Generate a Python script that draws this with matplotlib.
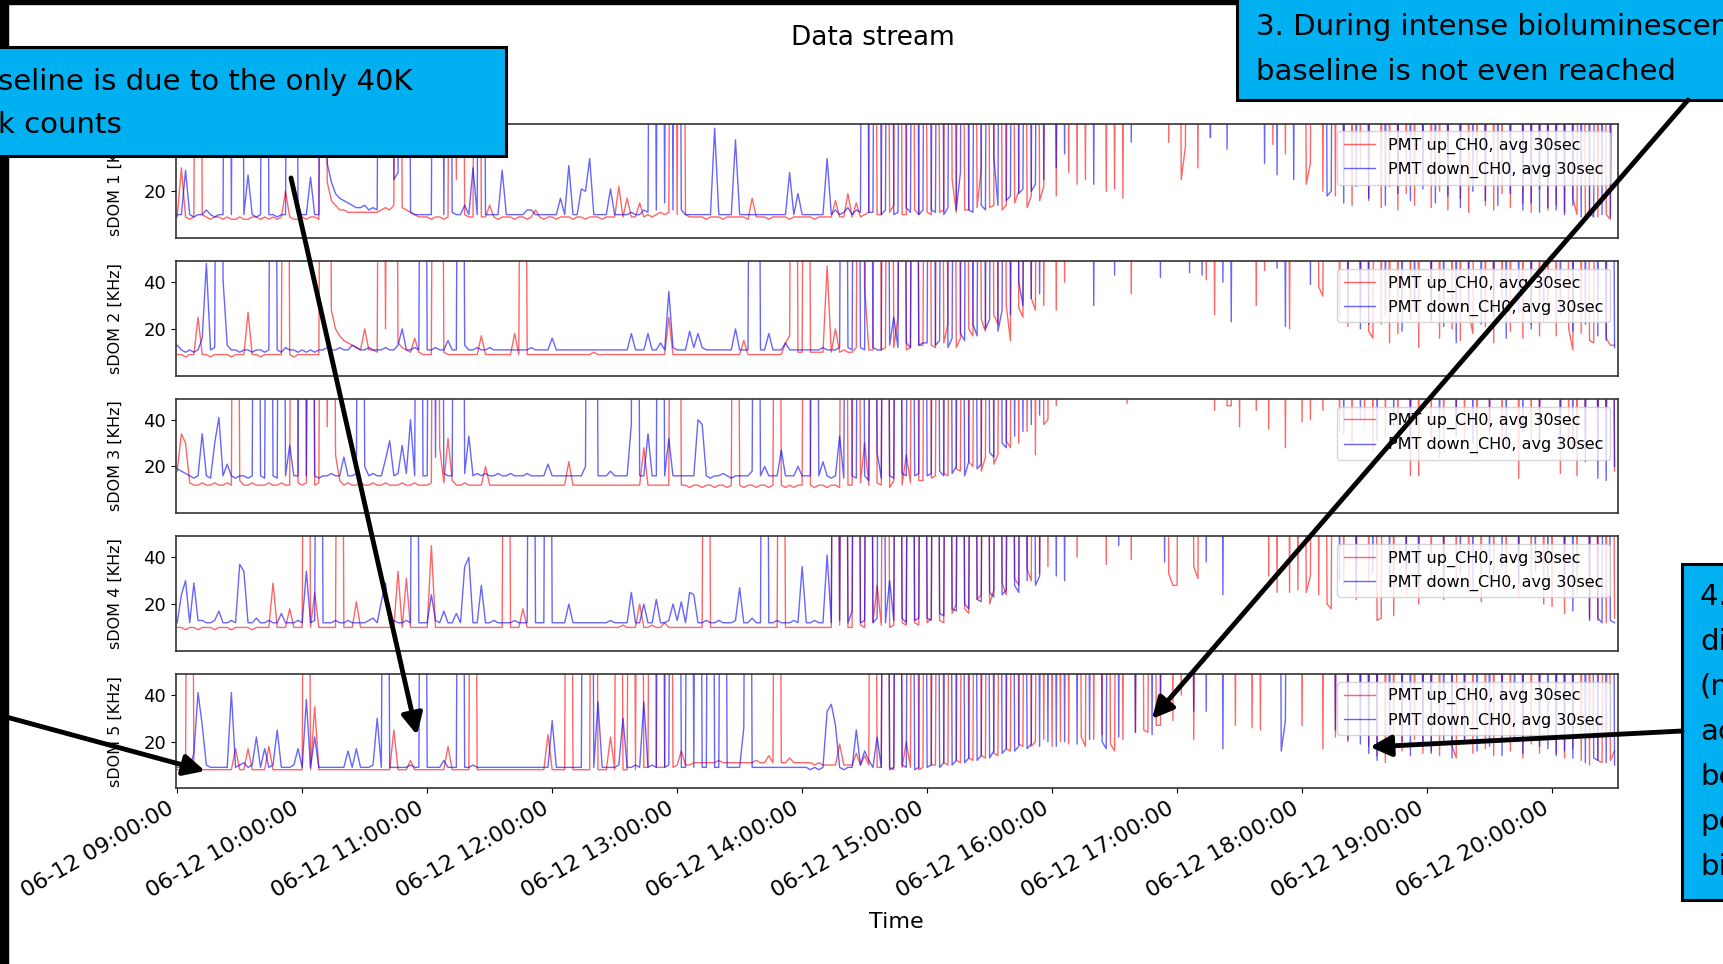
import numpy as np
import pandas as pd
import matplotlib
matplotlib.use("Agg")
import matplotlib.pyplot as plt
import matplotlib.dates as mdates
from matplotlib.patches import Rectangle, FancyArrowPatch

# one reading every 2 min, 09:00 -> 20:30 ; values in kHz
T = 400  # off-scale reading (far above the 49 kHz axis top)
times = pd.date_range("2019-06-12 09:00", "2019-06-12 20:30", freq="2min")
ALL_T = [T] * 30

sdom1_up = [
    9, 30, 9, 8, 9, T, 10, 9, 8, 9, 9, 8, 9, 8, 8, 9, 8, 8, 9, 9, 8, 9, 8, 9, 8, 9, 20, 9, 8, 8,            # 09
    9, 8, 9, 9, 8, T, 24, 16, 14, 12, 12, 11, 11, 11, 11, 11, 11, 11, 11, 12, 13, 12, 14, T, 13, 12, 11, 10, 9, 9,  # 10
    9, 8, 9, 9, 8, 9, T, 25, T, 10, 9, 9, T, 9, 9, 14, 9, 8, 9, 9, 9, 8, 9, 9, 8, 9, 12, 9, 8, 9,            # 11
    9, 8, 9, 9, 9, 8, 9, 9, 8, 9, 9, 9, 8, 9, 9, 9, 22, 9, 17, 9, 9, 15, 9, 10, 9, 10, 11, 10, 11, T,          # 12
    10, T, 10, 9, 9, 9, 9, 8, 9, 9, 9, 8, 9, 9, 9, 9, 9, 8, 17, 9, 9, 9, 8, 9, 9, 9, 9, 8, 9, 9,              # 13
    9, 9, 9, 8, 9, 9, 9, 9, 16, 9, 9, 19, 9, 15, 9, 10, 11, T, 10, 10, T, 11, 14, T, 10, 10, T, 12, 10, T,     # 14
    11, 10, T, 11, 12, T, 25, 11, T, 12, 12, T, 13, 30, T, 13, 14, T, 12, 14, T, 15, 20, T, 13, 18, T, 16, 22, T,  # 15
    T, 18, T, T, 28, T, 23, T, 25, T, T, T, T, 20, T, 21, T, 17, T, T, T, T, T, T, T, T, T, T, 41, T,          # 16
    T, 25, 39, T, T, 30, T, T, T, T, T, T, T, T, T, T, T, T, T, T, T, T, T, 40, T, T, 36, T, T, T,            # 17
    T, 23, 32, T, T, 20, T, T, 18, T, 25, T, 14, T, 30, T, 16, T, T, 13, T, 22, T, 12, T, 19, T, 14, T, 24,    # 18
    T, 13, T, 20, T, 12, T, T, 17, T, 11, T, 26, T, 14, T, 12, T, 19, T, 13, T, T, 15, T, 11, T, 21, T, 12,    # 19
    T, 14, T, 11, T, 17, 10, T, 9, 12, T, 9, T, 10, 8, T,                                                      # 20
]
sdom1_down = [
    10, 10, 29, 10, 9, 10, 10, 12, 10, 9, 10, 10, T, 10, T, T, 10, 27, 10, 9, 10, T, 10, 10, 9, 10, 10, T, T, 10,
    10, 10, 26, 10, 10, T, 32, 24, 19, 17, 16, 15, 14, 13, 13, 14, 12, 13, 12, T, 35, T, 25, 28, T, T, 11, 10, 10, 10,
    10, 10, T, T, 10, T, 11, 10, 10, 14, 10, 30, 10, T, 10, 10, 10, 10, 29, 10, 10, 10, 10, 10, 12, 12, 10, 10, 10, 10,
    10, 10, 17, 10, 31, 10, 10, 21, 20, 34, 10, 10, 10, 10, 21, 10, 10, 10, 10, 11, 10, 10, 12, 11, T, 12, T, 15, T, 12,
    T, 12, 10, 10, 10, 10, 10, 10, 10, 47, 10, 10, 10, 10, 42, 10, 10, 10, 10, 10, 10, 10, 10, 10, 10, 10, 10, 28, 10, 19,
    10, 10, 10, 10, 10, 10, 34, 10, 12, 10, 11, 13, 10, 12, 11, T, 11, 11, T, 10, 12, T, 10, 11, T, 13, 11, T, 10, 12,
    T, 12, 11, T, 10, 13, T, 12, 28, T, 12, 11, T, 14, 12, T, 35, 14, T, 16, 18, T, 19, 21, T, 20, 23, T, 25, T,
    T, 30, T, 36, T, T, T, T, T, T, 23, T, T, T, T, T, T, T, T, 41, T, T, T, T, T, T, T, T, T, T,
    T, T, T, T, T, T, T, T, 43, T, T, T, 38, T, T, T, T, T, T, T, T, 32, T, T, 27, T, T, T, 25, T,
    T, T, T, T, T, T, 18, 20, T, T, 15, T, T, 22, T, T, 17, T, T, T, 14, T, T, 19, T, T, 16, T, T, 21,
    T, T, 15, T, T, 18, T, T, 13, T, T, 20, T, T, 16, T, T, 14, T, T, 19, T, T, 12, T, 15, T, 11, T, 13,
    T, 12, T, 10, T, 14, T, 9, T, 11, 9, T, 10, T, 9, T,
]

sdom2_up = [
    9, 9, 8, 9, 9, 25, 9, 9, 8, 9, 9, 9, 9, 8, 9, 9, 9, 27, 9, 9, 8, 9, 9, 9, 9, 9, T, 9, 8, 9,
    9, 9, 9, 9, 9, T, T, 28, 20, 17, 15, 14, 13, 12, 11, 20, 11, 11, 10, T, 20, T, T, 14, 12, 11, 10, 16, 10, 9,
    9, 9, T, T, 10, 9, 9, 9, 9, 9, 9, 9, 9, 17, 9, 9, 9, 9, 9, 9, 9, 18, 9, T, 9, 9, 9, 9, 9, 9,
    9, 9, 9, 9, 9, 9, 9, 9, 9, 9, 10, 9, 9, 9, 9, 9, 9, 9, 9, 9, 9, 9, 9, 9, 9, 9, 9, 9, 25, 9,
    9, 9, 9, 9, 9, 9, 9, 9, 9, 9, 9, 9, 9, 9, 9, 9, 15, 9, 9, 9, 9, 9, 9, 9, 9, 9, 14, 17, T, 10,
    10, T, 10, 10, 10, 10, 47, 10, 20, 10, 11, 10, 10, 12, T, 38, 11, 11, T, 11, 12, T, 12, 25, T, 11, 12, T, 13, 13,
    T, 13, 12, T, 14, 22, T, 12, 16, T, 20, 17, T, 24, 19, T, 26, 22, T, 30, 15, T, 29, 25, T, 33, 28, T, 30, T,
    T, 28, T, 40, T, T, T, T, T, T, T, T, T, T, T, T, T, T, T, 35, T, T, T, T, T, T, T, T, T, T,
    T, T, T, T, T, T, T, 41, T, 26, T, T, T, T, T, T, T, T, T, 30, T, 45, T, T, T, T, T, 20, T, T,
    T, T, T, T, 38, 34, T, T, T, 25, T, 21, T, T, 28, T, 19, 16, T, 22, T, 14, T, 18, T, T, 24, T, 12, T,
    T, 23, T, 16, T, T, 20, T, 15, T, 27, 18, T, T, 21, T, 14, T, 25, T, 19, T, T, 16, T, 22, T, 17, T, 24,
    T, 17, T, T, 20, 11, T, 18, T, 15, 14, T, T, 16, 13, 13,
]
sdom2_down = [
    13, 11, 10, 11, 10, 11, 16, 48, 11, 12, T, 41, 13, 11, 11, 10, 11, 11, 10, 11, 11, 10, 11, T, 11, 10, 12, 11, 11, 10,
    11, 10, 11, 10, 11, 11, 12, 11, 11, 12, 11, 11, 13, 12, 11, 11, 12, 11, 11, 11, 12, 11, 11, 13, 20, 11, 11, 12, 11, T,
    11, 11, 12, 11, 11, 15, 11, 11, T, 13, 11, 11, 12, 11, 11, 12, 11, 11, 11, 11, 11, 11, 11, 11, 11, 12, 11, 11, 11, 11,
    16, 11, 11, 11, 11, 11, 11, 11, 11, 11, 11, 11, 11, 11, 11, 11, 11, 11, 11, 18, 11, 11, 11, 18, 11, 11, 14, 11, 36, 12,
    11, 11, 11, 19, 12, 18, 12, 11, 11, 11, 11, 11, 11, 11, 20, 11, 11, 11, T, T, 11, 11, 18, 11, 11, 11, 14, 11, 11, 11,
    11, 11, 11, 11, 11, 12, 11, 11, 11, 12, T, 12, 11, T, 12, 11, T, 12, 11, 11, T, 13, 25, 12, T, 14, 12, T, 13, 14,
    14, T, 13, 15, T, 12, 16, T, 18, 15, T, 22, 17, T, 20, 24, T, 19, 28, T, 26, T, 40, 30, T, 33, T, 35, T, T,
    T, T, T, T, T, T, T, T, T, T, 30, T, T, T, T, 43, T, T, T, T, T, T, T, T, T, T, 42, T, T, T,
    T, T, T, 44, T, T, 43, T, T, T, T, 40, T, 23, T, T, T, T, T, T, T, T, T, T, 46, T, 21, T, T, T,
    T, T, 39, T, T, T, T, T, T, T, T, 30, T, T, 20, T, 22, T, T, T, 26, T, T, T, 19, T, T, 28, T, T,
    T, 24, T, T, 21, T, T, 14, T, T, 29, T, T, 22, T, T, 25, T, T, 16, T, T, 27, T, T, 20, T, T, 23, T,
    T, T, 26, T, T, 19, T, T, 22, T, T, 17, T, 15, T, 12,
]

sdom3_up = [
    18, 34, 30, 13, 12, 12, 13, 12, 12, 13, 12, 12, 13, 12, T, 14, 12, 12, 13, 12, 12, 12, 13, 12, 12, 13, 12, 12, T, 13,
    12, 13, T, 12, 13, T, 37, T, 25, 14, 12, 13, 12, 12, 13, 12, 12, 13, 12, 12, 13, 12, 12, 12, 13, 12, 12, 13, 12, 12,
    12, 13, T, 28, 13, 32, 14, 12, 12, 13, 12, 12, 12, 12, 20, 12, 12, 12, 12, 12, 12, 12, 12, 12, 12, 12, 12, 12, 12, 12,
    12, 12, 12, 12, 22, 12, 12, 12, 12, 12, 12, 12, 12, 12, 12, 12, 12, 12, 12, 12, 12, 12, 28, 12, 12, 12, 12, 12, 12, T,
    T, 12, 12, 11, 12, 12, 11, 12, 12, 11, 12, 12, 11, 12, T, 12, 11, 12, 12, 11, 12, 12, 11, 12, T, 12, 11, 12, 11, 12,
    12, T, 12, 11, 12, 12, 11, 12, 12, 11, T, 12, 12, T, 13, 30, 12, T, 13, 12, T, 11, 14, T, 12, 25, 13, T, 14, 14,
    T, 15, 16, T, 17, 16, T, 19, 18, T, 22, 20, T, 18, 24, T, 21, 25, T, 31, 28, T, 30, T, 35, T, 25, T, 38, 40,
    T, 46, T, T, T, T, T, T, T, T, T, T, T, T, T, T, T, T, 47, T, T, T, T, T, T, T, T, T, T, T,
    T, T, T, T, T, T, T, T, T, 44, T, T, 46, 46, T, 37, T, T, T, 44, T, T, 36, T, T, T, 28, T, T, T,
    39, T, 40, T, T, 44, T, T, T, 35, T, T, 30, T, T, 38, T, 27, T, T, 33, T, T, 29, T, T, 16, T, 16, T,
    T, 32, T, T, 26, T, T, 36, T, 30, T, T, 24, T, T, 34, T, T, 28, T, T, T, 15, T, T, 31, T, 25, T, T,
    T, T, 17, T, 30, T, 16, T, 27, T, T, 22, T, 24, T, 18,
]
sdom3_down = [
    19, 18, 17, 16, 15, 16, 34, 16, 15, 30, 41, 16, 21, 16, 15, 16, 16, 15, 16, T, 16, 15, T, 16, 15, T, 16, 29, 16, 16,
    T, 16, T, 16, 15, 16, 16, 17, 16, 16, 24, 16, 16, 17, T, 20, 16, 17, 16, 16, 23, 31, 16, 17, 29, 17, 40, 16, T, 16,
    16, T, 24, T, 17, 16, 16, T, T, 17, 33, 16, 17, 16, 17, 16, 16, 17, 16, 16, 17, 16, 16, 16, 17, 16, 16, 16, 16, 21,
    16, 16, 16, 16, 16, 16, 16, 16, 20, T, T, 16, 16, 16, 18, 16, 16, 16, 16, 38, T, 16, 16, 34, 16, 16, T, 16, 32, 16,
    16, 16, 16, 16, 16, 40, 38, 16, 15, 16, 16, 17, 16, 15, 16, 16, 16, 16, 18, T, 16, 20, 16, 16, 16, 27, 16, 16, 16, 20,
    16, 16, 16, T, 16, 22, 16, 15, 16, 33, 15, T, 16, 15, T, 16, 14, T, 26, 15, T, 16, 15, T, 17, 16, T, 16, 17, T,
    16, 17, T, 18, 16, T, 17, 20, T, 16, 22, T, 19, 21, T, 26, 24, T, 30, 28, T, 33, T, 35, T, 38, T, 42, T, T,
] + ALL_T + ALL_T + [
    T, T, T, T, T, T, T, T, T, T, 34, T, T, T, 40, T, T, T, 31, T, T, T, 37, T, T, T, 29, T, T, T,
    T, T, T, 24, T, T, T, 33, T, T, T, 30, T, T, T, 36, T, T, T, 28, T, T, T, 35, T, T, T, 31, T, T,
    T, T, 30, T, T, 26, T, T, 22, T, T, 15, T, 14, T, 20,
]

sdom4_up = [
    10, 10, 9, 10, 10, 9, 10, 10, 10, 9, 10, 10, 10, 9, 10, 10, 10, 10, 9, 10, 10, 10, 10, 29, 10, 10, 10, 18, 10, 10,
    10, T, 10, 25, 10, 10, 10, 10, 10, T, 10, 10, 10, 21, 10, 10, 10, 10, 10, 10, 10, 10, 10, 34, 10, 31, 10, 10, 10, 10,
    10, 45, 10, 10, 10, 10, 10, 10, 10, 10, 10, 10, 10, 10, 10, 10, 10, 10, 10, T, 10, 10, 10, 18, 10, 10, 10, 10, 10, 10,
    10, 10, 10, 10, 10, 10, 10, 10, 10, 10, 10, 10, 10, 10, 10, 10, 10, 11, 10, 10, 10, 20, 10, 10, 11, 10, 10, 12, 10, 10,
    10, 10, 10, 10, 10, 10, 10, T, 10, 10, 10, 10, 10, 10, 10, 10, 10, 10, 10, 10, 10, 10, 10, 10, 10, T, 10, 10, 10, 10,
    10, 10, 10, 10, 10, 10, 10, 10, T, 11, T, 10, 10, T, 11, 10, T, 12, 28, 11, T, 10, 11, T, 12, 11, T, 12, 11, T,
    12, 14, T, 13, 12, T, 16, 20, T, 18, 16, T, 22, 24, T, 20, 26, T, 29, 24, T, 31, 28, T, 35, 30, T, 33, T, 36,
    T, T, T, T, T, T, 40, T, T, T, T, T, T, 37, T, T, T, T, T, 39, T, T, T, T, T, T, T, T, 33, 28,
    28, T, T, T, 36, 31, T, T, T, T, T, T, T, T, T, T, T, T, T, T, T, T, 32, T, 25, T, T, 25, T, 26,
    T, 25, 32, T, 24, T, 20, 18, T, T, 28, T, T, 22, T, T, 30, T, 13, 14, T, T, 15, T, T, 24, T, T, 20, T,
    T, 27, T, T, 22, T, T, 30, T, T, 25, T, T, 21, T, T, 29, T, T, 26, T, T, 23, T, T, 31, T, T, 20, T,
    19, T, T, 16, T, T, 24, T, T, 14, T, 13, T, 12, T, 14,
]
sdom4_down = [
    12, 24, 30, 12, 29, 13, 13, 12, 12, 13, 17, 12, 12, 13, 12, 37, 34, 12, 12, 14, 12, 12, 13, 12, 12, 16, 12, 12, 12, 13,
    12, 34, 12, 13, T, 12, 12, 12, 13, 12, 12, 13, 12, 12, 12, 12, 13, 14, 12, 21, 29, 12, 13, 12, 12, 13, 12, T, 12, 12,
    12, 24, 13, 12, 17, 12, 12, 16, 12, 36, 40, 12, 12, 28, 12, 12, 13, 12, 12, 12, 12, 13, 12, 12, 12, T, 12, 12, 12, T,
    12, 12, 12, 12, 20, 12, 12, 12, 12, 12, 12, 12, 12, 12, 13, 12, 12, 12, 12, 25, 12, 12, 20, 12, 12, 22, 12, 12, 13, 20,
    13, 21, 12, 25, 24, 12, 12, 13, 12, 12, 13, 12, 12, 12, 13, 27, 12, 12, 14, 12, 12, T, 12, 12, 13, 12, 12, 12, 13, 12,
    36, 12, 12, 13, 12, 12, 41, 12, T, 13, T, 12, 17, T, 12, 13, T, 12, 14, T, 12, 30, 13, T, 14, 12, T, 13, 14, T,
    14, 13, T, 16, 15, T, 18, 17, T, 20, 18, T, 22, 21, T, 25, 23, T, 24, 26, T, 28, 25, T, 30, T, 28, 32, T, T,
    T, 32, T, 30, T, T, T, T, T, T, T, T, T, T, T, T, 45, T, T, T, T, T, T, T, T, T, T, 38, T, T,
    T, T, T, T, T, T, T, 38, T, T, T, 24, T, T, T, T, T, T, T, T, T, T, T, T, T, T, T, T, T, T,
    T, T, T, T, T, T, T, T, T, 30, T, T, T, 25, T, T, T, 33, T, T, T, 27, T, T, T, 35, T, T, 29, T,
    T, T, T, T, 28, T, T, T, 33, T, T, 26, T, T, T, 31, T, T, 36, T, T, T, 29, T, T, T, 34, T, T, 30,
    T, T, T, 25, T, 17, T, T, T, 13, T, 14, 12, T, 13, 12,
]

sdom5_up = [
    8, 8, 8, T, 8, 8, 8, 8, 8, 8, 8, 8, 8, 8, 17, 8, 8, 17, 8, 8, 8, 8, 18, 8, 8, 8, 8, 8, 8, 8,
    8, T, 8, 35, 8, 8, 8, 8, 8, 8, 8, 8, 8, 8, 8, 8, 8, 8, 8, 8, 8, 8, 25, 8, 8, 8, 12, 8, 8, 8,
    8, 8, 8, 8, 8, 18, 8, 8, 8, 8, 8, T, 8, 8, 8, 8, 8, 8, 8, 8, 8, 8, 8, 8, 8, 8, 8, 8, 8, 23,
    8, 8, 8, 8, T, 8, 8, 8, 8, 8, T, 8, 8, 8, 22, 8, T, 8, 8, T, 8, T, 9, 9, T, 9, 9, 9, T, 9,
    10, 16, 10, 10, 11, 11, 11, 11, 11, 11, 12, 11, 11, 11, 11, 11, 11, 11, 11, 12, 11, 11, 14, 11, T, 11, 11, 13, 11, 11,
    11, 11, 11, 10, 11, 10, 10, 10, 10, 19, 10, 10, 10, 15, 10, 14, 10, T, 9, 9, T, 9, 8, T, 9, 20, 9, T, 8, 9,
    T, 10, 10, T, 11, 10, T, 12, 11, T, 13, 12, T, 14, 13, T, 15, 14, T, 17, 16, T, 19, 18, T, 18, 20, T, 21, T,
    18, T, 20, T, 19, T, T, 22, 18, T, 21, T, 23, T, 19, 16, T, 21, T, T, 24, T, 25, 24, T, 27, 27, T, T, 29,
    T, 40, T, T, 21, T, T, T, T, T, T, T, T, T, 27, T, T, T, 26, T, 25, T, T, T, T, T, T, T, T, T,
    27, T, T, T, T, 17, T, T, 22, T, T, 20, T, T, 24, T, 18, T, 14, T, 11, T, 19, T, 16, T, T, 21, T, 15,
    T, 16, T, 14, T, T, 18, 13, T, 20, T, 15, T, T, 17, T, 14, T, 22, T, 16, T, T, 13, T, 19, T, 15, T, T,
    T, 15, T, 13, T, 17, T, 12, T, 10, T, 12, 11, T, 12, 16,
]
sdom5_down = [
    9, 9, 9, 9, 15, 41, 27, 10, 9, 9, 9, 9, 9, 41, 9, 10, 11, 9, 10, 22, 9, 17, 9, 10, 25, 9, 9, 9, 10, 17,
    9, 38, 9, 22, 9, 9, 9, 9, 9, 9, 9, 16, 9, 17, 9, 9, 9, 10, 30, 9, T, 9, 9, 9, 9, 9, 10, 9, 9, T,
    9, 9, 9, 9, 12, 9, 9, 9, T, 9, 9, 10, 9, 9, 9, 9, 9, 9, 9, 9, 9, 9, 9, 9, 9, 9, 9, 9, 9, 9,
    29, 9, 9, 9, 9, 9, 9, 9, T, T, 9, 37, 9, 9, 9, 9, 10, 30, 9, 9, 10, 9, 37, 9, 10, 9, T, 9, 10, T,
    T, 9, 9, T, 9, T, 9, 9, T, 9, 9, T, 9, 9, 9, 9, 26, T, 9, 9, 9, 9, 9, 9, 9, 9, 9, 9, 9, 9,
    9, 9, 8, 9, 8, 9, 33, 36, 27, 9, 8, 9, 9, 25, 10, 16, 12, 9, 22, 9, T, 8, 9, T, 10, 9, T, 8, 9, T,
    9, 10, T, 9, 11, T, 10, 12, T, 11, 13, T, 12, 14, T, 13, 16, T, 15, 17, T, 16, 18, T, 17, 19, T, 18, T, 20,
    T, 18, T, 20, T, T, 19, T, T, 21, T, T, 20, 17, T, T, 22, T, T, T, 24, T, T, T, 23, T, 33, T, T, T,
    T, T, T, T, 33, T, T, 33, T, T, T, 17, T, T, T, T, T, T, T, T, T, T, T, T, T, 16, 29, T, T, T,
    T, T, T, T, T, T, T, T, 25, T, T, 21, T, T, 19, T, 15, T, 12, T, T, 17, T, T, 20, T, 14, T, T, 18,
    T, 15, T, T, 19, T, 13, T, T, 21, T, T, 16, T, T, 18, T, T, 14, T, T, 22, T, 15, T, T, T, 18, T, 17,
    T, 14, T, 16, T, 13, T, T, 11, T, 13, 12, T, 11, T, 10,
]

panels = [(sdom1_up, sdom1_down), (sdom2_up, sdom2_down), (sdom3_up, sdom3_down),
          (sdom4_up, sdom4_down), (sdom5_up, sdom5_down)]
for up, down in panels:
    assert len(up) == len(times) and len(down) == len(times), (len(up), len(down))

W, H = 1723, 964
fig = plt.figure(figsize=(W / 100, H / 100), dpi=100)

for k, (up, down) in enumerate(panels):
    top = 123.5 + k * 137.6
    ax = fig.add_axes([176 / W, 1 - (top + 114.5) / H, 1442 / W, 114.5 / H])
    ax.plot(times, up, color="red", lw=1.0, alpha=0.6, label="PMT up_CH0, avg 30sec")
    ax.plot(times, down, color="blue", lw=1.0, alpha=0.6, label="PMT down_CH0, avg 30sec")
    ax.set_ylim(0, 49)
    ax.set_xlim(pd.Timestamp("2019-06-12 08:59:25"), pd.Timestamp("2019-06-12 20:31:40"))
    ax.set_yticks([20, 40])
    ax.tick_params(axis="y", labelsize=13)
    for s in ax.spines.values():
        s.set_color("#333333"); s.set_linewidth(1.2)
    ax.set_ylabel(f"sDOM {k + 1} [KHz]", fontsize=11.5)
    ax.yaxis.set_label_coords(-0.037, 0.5)
    ax.legend(loc="upper right", fontsize=11.5)
    if k < 4:
        ax.tick_params(axis="x", bottom=False, labelbottom=False)
    else:
        ax.xaxis.set_major_locator(mdates.HourLocator())
        ax.xaxis.set_major_formatter(mdates.DateFormatter("%m-%d %H:%M:%S"))
        ax.tick_params(axis="x", labelsize=16)
        for lab in ax.get_xticklabels():
            lab.set_rotation(30); lab.set_ha("right")

fig.text(873 / W, 1 - 45 / H, "Data stream", ha="center", va="baseline", fontsize=19)
fig.text(896 / W, 1 - 928 / H, "Time", ha="center", va="baseline", fontsize=16)

# slide overlay: callout boxes + arrows (pixel coords, y down)
ov = fig.add_axes([0, 0, 1, 1], zorder=10)
ov.set_xlim(0, W); ov.set_ylim(H, 0); ov.axis("off")
ov.add_patch(Rectangle((0, 0), 8, H, color="black", zorder=1))
ov.add_patch(Rectangle((0, 0), W, 4, color="black", zorder=1))

cyan = "#00B0F0"
box_kw = dict(facecolor=cyan, edgecolor="black", lw=2.2, zorder=2)
txt_kw = dict(fontsize=21, va="baseline", ha="left", zorder=3)

ov.add_patch(Rectangle((-20, 46.5), 526, 109.5, **box_kw))
ov.text(-2, 90, "seline is due to the only 40K", **txt_kw)
ov.text(-2, 133, "k counts", **txt_kw)

ov.add_patch(Rectangle((1237, -20), 520, 120, **box_kw))
ov.text(1256, 35, "3. During intense bioluminescence, the", **txt_kw)
ov.text(1256, 80, "baseline is not even reached", **txt_kw)

ov.add_patch(Rectangle((1682, 564), 80, 336, **box_kw))
for i, line in enumerate(["4. The", "different", "(more", "active", "behaviour", "peaks", "bio"]):
    ov.text(1700, 605 + 45 * i, line, **txt_kw)

arrow_kw = dict(arrowstyle="-|>,head_length=0.9,head_width=0.45", mutation_scale=14,
                lw=3.5, color="black", shrinkA=0, shrinkB=0, zorder=4)
for a, b in [((291, 178), (417, 735)), ((-60, 699), (205, 771)),
             ((1688, 100), (1152, 719)), ((1682, 731), (1370, 747))]:
    ov.add_patch(FancyArrowPatch(a, b, **arrow_kw))

fig.savefig("out.png", dpi=100)
